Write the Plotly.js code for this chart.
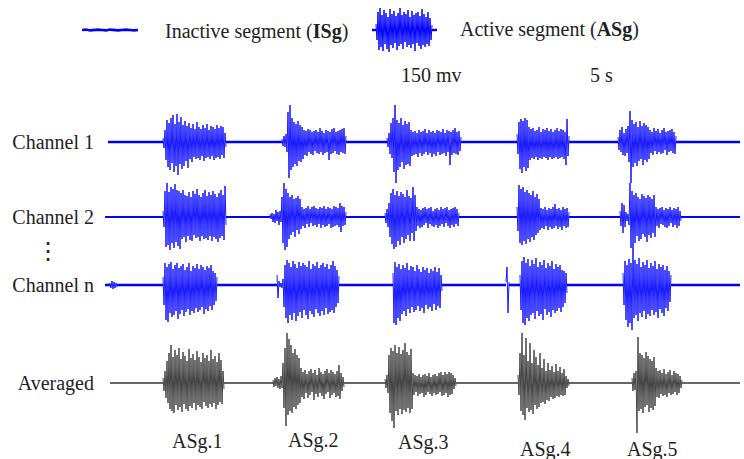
<!DOCTYPE html>
<html>
<head>
<meta charset="utf-8">
<script src="https://cdn.plot.ly/plotly-3.0.1.min.js"></script>
<style>html,body{margin:0;padding:0;background:#fff;}#chart{width:744px;height:459px;}</style>
</head>
<body>
<div id="chart"></div>
<script>
// ---------------- DATA (amplitudes in mV-like units, one value per sample) ----------------
const channelNames = ["Channel 1", "Channel 2", "Channel n", "Averaged"];
const asgLabels = ["ASg.1", "ASg.2", "ASg.3", "ASg.4", "ASg.5"];
const asgTimes = [92, 208, 318, 440, 547];          // sample index of each active segment label
const scaleTexts = ["150 mv", "5 s"];

// Channel 1
const ch1Span = [3, 635];
const ch1Starts = [58, 177, 282, 412, 513];
const c1b1 = [4,-6,12,-18,22,-25,19,-28,24,-21,27,-30,18,-24,28,-33,20,-22,25,-27,17,-24,21,-19,16,-26,19,-17,14,-20,18,-15,13,-17,20,-16,15,-18,13,-14,17,-19,14,-16,18,-15,12,-17,16,-14,15,-18,13,-16,17,-15,14,-17,16,-13,15,-16,9,-5];
const c1b2 = [3,-4,6,-5,8,-10,30,-36,37,-28,24,-25,20,-22,18,-24,21,-19,17,-20,15,-17,12,-13,11,-14,13,-10,12,-12,10,-13,11,-9,12,-11,10,-12,14,-10,11,-13,9,-11,12,-10,11,-18,10,-12,13,-11,14,-9,10,-12,11,-13,12,-10,13,-11,14,-12,6];
const c1b3 = [4,-5,9,-12,19,-16,24,-30,37,-41,22,-28,19,-25,24,-20,17,-27,21,-23,18,-22,20,-24,12,-14,10,-13,11,-12,9,-15,12,-11,10,-14,11,-12,13,-10,9,-13,12,-11,10,-15,11,-12,9,-14,12,-10,11,-13,10,-12,13,-11,9,-14,12,-10,11,-23,10,-13,12,-11,14,-12,10,-13,11,-9,5];
const c1b4 = [8,-12,20,-27,23,-31,21,-25,24,-29,22,-26,15,-18,13,-16,14,-17,11,-15,12,-18,15,-16,10,-17,13,-15,12,-16,14,-18,11,-15,13,-17,10,-16,12,-15,14,-17,11,-16,13,-15,12,-17,10,-23,23,-14,6];
const c1b5 = [5,-8,12,-10,15,-13,9,-14,13,-11,16,-20,31,-41,22,-25,18,-21,20,-24,15,-19,21,-17,16,-23,19,-18,17,-20,15,-17,12,-11,10,-13,14,-9,11,-12,13,-10,9,-12,12,-11,14,-8,10,-13,11,-10,12,-9,13,-11,10,-12,6];

// Channel 2
const ch2Span = [0, 635];
const ch2Starts = [58, 165, 280, 412, 515];
const c2b1 = [6,-10,26,-30,34,-28,25,-33,30,-26,28,-31,33,-25,27,-29,26,-32,24,-22,27,-20,22,-25,21,-19,25,-23,20,-24,26,-18,23,-21,28,-20,22,-24,20,-19,24,-22,27,-21,21,-23,25,-19,22,-24,26,-20,23,-22,20,-25,24,-21,27,-19,22,-23,31,-8];
const c2b2 = [3,-2,4,-5,3,-6,7,-4,5,-8,6,-5,20,-26,34,-33,28,-30,24,-22,20,-18,22,-15,18,-20,19,-13,21,-17,18,-12,10,-9,8,-11,9,-7,11,-10,8,-6,10,-9,11,-8,9,-10,8,-7,10,-11,9,-8,11,-10,8,-9,10,-7,9,-11,8,-10,11,-9,10,-8,9,-10,14,-15,11,-9,10,-8,5];
const c2b3 = [4,-6,8,-10,14,-20,24,-27,28,-32,22,-30,26,-24,21,-28,25,-20,23,-26,20,-22,27,-18,21,-24,19,-16,30,-24,22,-14,10,-9,8,-11,7,-10,9,-8,10,-6,8,-11,9,-7,10,-9,6,-10,8,-8,9,-11,7,-9,10,-7,8,-10,9,-6,10,-9,7,-11,8,-8,9,-10,10,-7,8,-9,4];
const c2b4 = [10,-14,32,-26,28,-28,30,-24,25,-27,27,-22,24,-25,22,-20,26,-23,20,-18,23,-16,18,-13,9,-11,8,-12,10,-9,7,-13,9,-10,8,-12,10,-11,13,-9,8,-12,9,-10,7,-13,10,-9,8,-11,9,-10,5];
const c2b5 = [6,-9,14,-16,12,-10,5,-4,3,-8,34,-31,26,-28,22,-26,24,-19,20,-24,18,-22,23,-17,21,-20,19,-25,22,-18,20,-21,18,-16,22,-20,10,-9,8,-11,9,-7,10,-8,7,-10,9,-11,8,-9,10,-6,7,-10,9,-8,8,-11,10,-9,6,-4];

// Channel n
const chnSpan = [0, 635];
const chnStarts = [5, 58, 172, 288, 401, 415, 518];
const c3b0 = [2,-3,4,-4,3,-3,2,-2];
const c3b1 = [8,-20,22,-35,18,-37,21,-28,23,-32,16,-30,20,-26,22,-34,17,-29,19,-25,21,-31,15,-27,18,-24,22,-30,14,-26,19,-28,17,-23,21,-27,16,-25,20,-22,18,-29,15,-24,19,-26,17,-21,20,-25,14,-20,12,-16,8];
const c3b2 = [10,-13,4,-2,2,-3,6,-22,20,-33,25,-38,22,-30,18,-35,24,-28,21,-36,17,-31,23,-27,19,-33,22,-25,20,-30,18,-34,24,-26,16,-29,21,-32,19,-24,23,-28,17,-31,20,-26,22,-30,18,-23,21,-29,16,-27,20,-25,24,-28,19,-22,15,-18,9];
const c3b3 = [12,-38,23,-40,18,-33,21,-36,16,-29,20,-26,17,-31,22,-24,15,-28,19,-22,18,-27,14,-25,20,-21,16,-26,13,-23,18,-28,15,-20,17,-24,12,-22,16,-26,14,-19,18,-25,13,-21,17,-23,10,-6];
const c3s1 = [3,18,-28,3];
const c3b4 = [10,-25,24,-38,28,-40,22,-33,26,-36,19,-30,25,-28,21,-34,27,-26,18,-31,23,-29,20,-35,25,-24,17,-30,22,-27,19,-32,24,-25,16,-28,21,-26,18,-23,20,-27,15,-22,14,-18,12,-8];
const c3b5 = [12,-20,24,-35,20,-42,26,-38,22,-45,40,-33,25,-30,21,-36,27,-28,18,-32,23,-26,20,-34,25,-29,17,-31,22,-25,19,-30,24,-27,16,-33,21,-24,18,-28,20,-31,15,-23,19,-26,14,-17,10];

// Averaged
const avgSpan = [5, 635];
const avgStarts = [58, 168, 280, 413, 527];
const a1 = [5,-8,12,-15,22,-20,30,-26,38,-28,26,-30,33,-22,28,-27,35,-24,24,-29,31,-21,27,-26,22,-28,34,-23,25,-25,29,-20,23,-27,32,-22,26,-24,21,-26,30,-19,25,-23,28,-25,22,-21,33,-24,24,-20,27,-26,21,-22,30,-19,23,-21,12,-6];
const a2 = [3,-4,5,-3,6,-5,4,-6,7,-5,20,-25,35,-43,50,-32,44,-28,38,-30,30,-24,34,-26,28,-22,25,-20,15,-14,11,-16,13,-10,9,-15,12,-12,14,-9,10,-17,13,-11,8,-14,15,-10,11,-13,9,-16,12,-11,14,-9,10,-15,13,-12,11,-10,9,-14,12,-13,18,-16,10,-8,6,-4];
const a3 = [4,-5,8,-10,28,-30,35,-38,32,-45,38,-28,30,-32,36,-26,29,-31,33,-27,40,-29,31,-25,28,-30,34,-26,10,-12,8,-9,7,-13,9,-11,6,-10,8,-14,9,-12,7,-9,10,-11,6,-13,8,-10,9,-12,7,-11,10,-9,11,-13,8,-12,11,-10,9,-14,11,-12,10,-11,8,-6,5,-3];
const a4 = [8,-12,30,-28,50,-32,28,-37,45,-25,22,-29,40,-27,20,-31,33,-22,26,-26,18,-24,30,-20,15,-19,24,-21,12,-17,20,-18,13,-14,17,-16,11,-15,19,-13,12,-14,16,-12,10,-13,14,-12,7,-5,4,-3];
const a5 = [5,-8,10,-7,12,-50,46,-28,30,-26,28,-30,25,-24,31,-22,27,-29,24,-25,22,-27,26,-23,15,-14,12,-15,13,-11,10,-13,14,-12,9,-14,11,-10,13,-12,8,-11,12,-9,10,-12,9,-10,7,-5,3];

// Legend icons
const legendIsg = [0,0.4,-0.4,0,0.4,0,-0.4,0.4,0,-0.4,0,0.4,0,-0.4,0];
const legendAsg = [6,-10,18,-20,22,-17,15,-21,20,-14,17,-19,13,-22,21,-15,16,-18,19,-13,14,-20,17,-16,22,-14,15,-19,18,-12,16,-17,20,-15,13,-18,19,-14,15,-21,17,-13,18,-16,14,-19,21,-15,16,-17,13,-14,18,-16,12,-10,5];

// ---------------- BUILD ----------------
const W = 744, H = 459;
const BLUE = 'rgb(0,0,255)';
const TEXT = '#222';
const FONT = '"Liberation Serif", "Times New Roman", serif';
const FS = 20;

function asgTrace(starts, bursts, yaxis, color, width, step) {
  const x = [], y = [];
  bursts.forEach((b, k) => {
    b.forEach((v, i) => { x.push(starts[k] + i * step); y.push(v); });
    x.push(null); y.push(null);
  });
  return {type: 'scatter', mode: 'lines', x, y, xaxis: 'x', yaxis, hoverinfo: 'skip',
          line: {color, width, simplify: false}};
}
function isgTrace(span, starts, bursts, yaxis, color, width, step) {
  const x = [], y = [];
  let t = span[0];
  starts.forEach((s, k) => {
    x.push(t, s, null); y.push(0, 0, null);
    t = s + (bursts[k].length - 1) * step;
  });
  x.push(t, span[1]); y.push(0, 0);
  return {type: 'scatter', mode: 'lines', x, y, xaxis: 'x', yaxis, hoverinfo: 'skip',
          line: {color, width}};
}

const channels = [
  {span: ch1Span, starts: ch1Starts, bursts: [c1b1, c1b2, c1b3, c1b4, c1b5], ax: 'y',  color: BLUE, w: 0.9, bw: 2.6, bc: BLUE},
  {span: ch2Span, starts: ch2Starts, bursts: [c2b1, c2b2, c2b3, c2b4, c2b5], ax: 'y2', color: BLUE, w: 0.9, bw: 2.2, bc: BLUE},
  {span: chnSpan, starts: chnStarts, bursts: [c3b0, c3b1, c3b2, c3b3, c3s1, c3b4, c3b5], ax: 'y3', color: BLUE, w: 0.9, bw: 2.6, bc: BLUE},
  {span: avgSpan, starts: avgStarts, bursts: [a1, a2, a3, a4, a5], ax: 'y4', color: '#444', w: 1, bw: 1.3, bc: '#333'}
];

const traces = [];
channels.forEach(c => {
  traces.push(isgTrace(c.span, c.starts, c.bursts, c.ax, c.bc, c.bw, 1));
  traces.push(asgTrace(c.starts, c.bursts, c.ax, c.color, c.w, 1));
});
// legend icons
traces.push({type: 'scatter', mode: 'lines', x: legendIsg.map((_, i) => i * 4), y: legendIsg,
             xaxis: 'x3', yaxis: 'y6', hoverinfo: 'skip', line: {color: BLUE, width: 2.6}});
traces.push({type: 'scatter', mode: 'lines', x: [0, 4, null, 4 + legendAsg.length - 1, 65], y: [0, 0, null, 0, 0],
             xaxis: 'x2', yaxis: 'y5', hoverinfo: 'skip', line: {color: BLUE, width: 2.4}});
traces.push({type: 'scatter', mode: 'lines', x: legendAsg.map((_, i) => 4 + i), y: legendAsg,
             xaxis: 'x2', yaxis: 'y5', hoverinfo: 'skip', line: {color: BLUE, width: 1}});

// ---------------- LAYOUT ----------------
function rowDomain(cPx, half) { return [(H - (cPx + half)) / H, (H - (cPx - half)) / H]; }
function rowAxis(cPx, half, label) {
  return {domain: rowDomain(cPx, half), range: [-half, half], anchor: 'x',
          tickvals: [0], ticktext: [label], ticks: '', ticklabelstandoff: 10,
          showgrid: false, zeroline: false, showline: false, fixedrange: true,
          tickfont: {family: FONT, size: FS, color: TEXT}};
}
const hidden = {showgrid: false, zeroline: false, showline: false, showticklabels: false, ticks: '', fixedrange: true};

const labelYpx = [441, 440, 442, 449, 449];
const annotations = asgLabels.map((t, i) => ({
  text: t, x: asgTimes[i], xref: 'x', y: (H - labelYpx[i]) / H, yref: 'paper',
  xanchor: 'center', yanchor: 'middle', showarrow: false, font: {family: FONT, size: FS, color: TEXT}
}));
annotations.push(
  {text: 'Inactive segment (<b>ISg</b>)', x: 163 / W, y: (H - 31) / H, xref: 'paper', yref: 'paper',
   xanchor: 'left', yanchor: 'middle', showarrow: false, font: {family: FONT, size: FS, color: TEXT}},
  {text: 'Active segment (<b>ASg</b>)', x: 458 / W, y: (H - 30) / H, xref: 'paper', yref: 'paper',
   xanchor: 'left', yanchor: 'middle', showarrow: false, font: {family: FONT, size: FS, color: TEXT}},
  {text: scaleTexts[0], x: 399 / W, y: (H - 75) / H, xref: 'paper', yref: 'paper',
   xanchor: 'left', yanchor: 'middle', showarrow: false, font: {family: FONT, size: FS, color: TEXT}},
  {text: scaleTexts[1], x: 588 / W, y: (H - 75) / H, xref: 'paper', yref: 'paper',
   xanchor: 'left', yanchor: 'middle', showarrow: false, font: {family: FONT, size: FS, color: TEXT}},
  {text: '⋮', x: 48 / W, y: (H - 251) / H, xref: 'paper', yref: 'paper',
   xanchor: 'center', yanchor: 'middle', showarrow: false, font: {family: 'DejaVu Sans', size: 24, color: TEXT}}
);

const layout = {
  width: W, height: H, margin: {l: 0, r: 0, t: 0, b: 0},
  paper_bgcolor: '#fff', plot_bgcolor: 'rgba(0,0,0,0)', showlegend: false,
  font: {family: FONT, size: FS, color: TEXT},
  xaxis: Object.assign({domain: [105 / W, 742 / W], range: [0, 637], anchor: 'y4'}, hidden),
  yaxis: rowAxis(142, 50, channelNames[0]),
  yaxis2: rowAxis(217, 50, channelNames[1]),
  yaxis3: rowAxis(285, 50, channelNames[2]),
  yaxis4: rowAxis(383, 55, channelNames[3]),
  xaxis2: Object.assign({domain: [372 / W, 437 / W], range: [0, 65], anchor: 'y5'}, hidden),
  yaxis5: Object.assign({domain: rowDomain(30, 25), range: [-25, 25], anchor: 'x2'}, hidden),
  xaxis3: Object.assign({domain: [82 / W, 140 / W], range: [0, 58], anchor: 'y6'}, hidden),
  yaxis6: Object.assign({domain: rowDomain(30, 25), range: [-25, 25], anchor: 'x3'}, hidden),
  annotations
};

Plotly.newPlot('chart', traces, layout, {staticPlot: true, displayModeBar: false});
</script>
</body>
</html>
